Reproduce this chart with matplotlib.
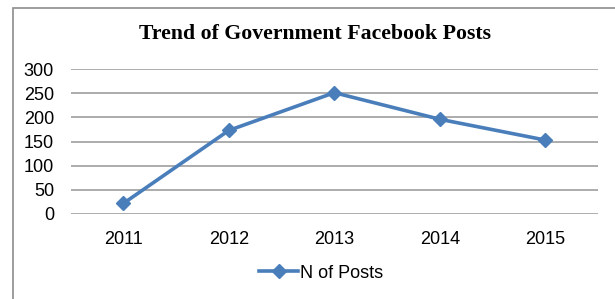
import matplotlib.pyplot as plt
from matplotlib.patches import Rectangle

years = ['2011', '2012', '2013', '2014', '2015']
posts = [22, 173, 251, 196, 153]
y_ticks = [0, 50, 100, 150, 200, 250, 300]

W, H = 615, 299
fig = plt.figure(figsize=(W / 100, H / 100), dpi=100)

# chart-area border (left and top visible, rest runs off the image)
fig.patches.append(Rectangle((13 / W, -0.1), 1.2, 1 - 8 / H + 0.1,
                             transform=fig.transFigure, fill=False,
                             edgecolor='#8c8c8c', linewidth=1.2))

ax = fig.add_axes([70.7 / W, 1 - 214 / H, (598 - 70.7) / W, (214 - 69) / H])
x = range(len(years))
ax.plot(x, posts, color='#4a7ebb', linewidth=2.6, marker='D', markersize=7,
        label='N of Posts', clip_on=False, zorder=3)

ax.set_xlim(-0.5, len(years) - 0.5)
ax.set_ylim(0, 300)
ax.set_yticks(y_ticks)
ax.set_xticks(list(x))
ax.set_xticklabels(years)
for s in ax.spines.values():
    s.set_visible(False)
ax.grid(axis='y', color='#a6a6a6', linewidth=1.3)
ax.set_axisbelow(True)
ax.tick_params(length=0, labelsize=13)
ax.tick_params(axis='x', pad=12)
ax.tick_params(axis='y', pad=12)
for lab in ax.get_xticklabels() + ax.get_yticklabels():
    lab.set_family('Liberation Sans')

fig.text(315 / W, 1 - 34 / H, 'Trend of Government Facebook Posts',
         ha='center', va='center', fontsize=15.7, fontweight='bold',
         family='Liberation Serif')

fig.legend(loc='center', bbox_to_anchor=(321 / W, 1 - 273 / H), frameon=False,
           numpoints=1, handlelength=2.2, handletextpad=0.1,
           prop={'family': 'Liberation Sans', 'size': 13})

fig.savefig('out.png', dpi=100)
